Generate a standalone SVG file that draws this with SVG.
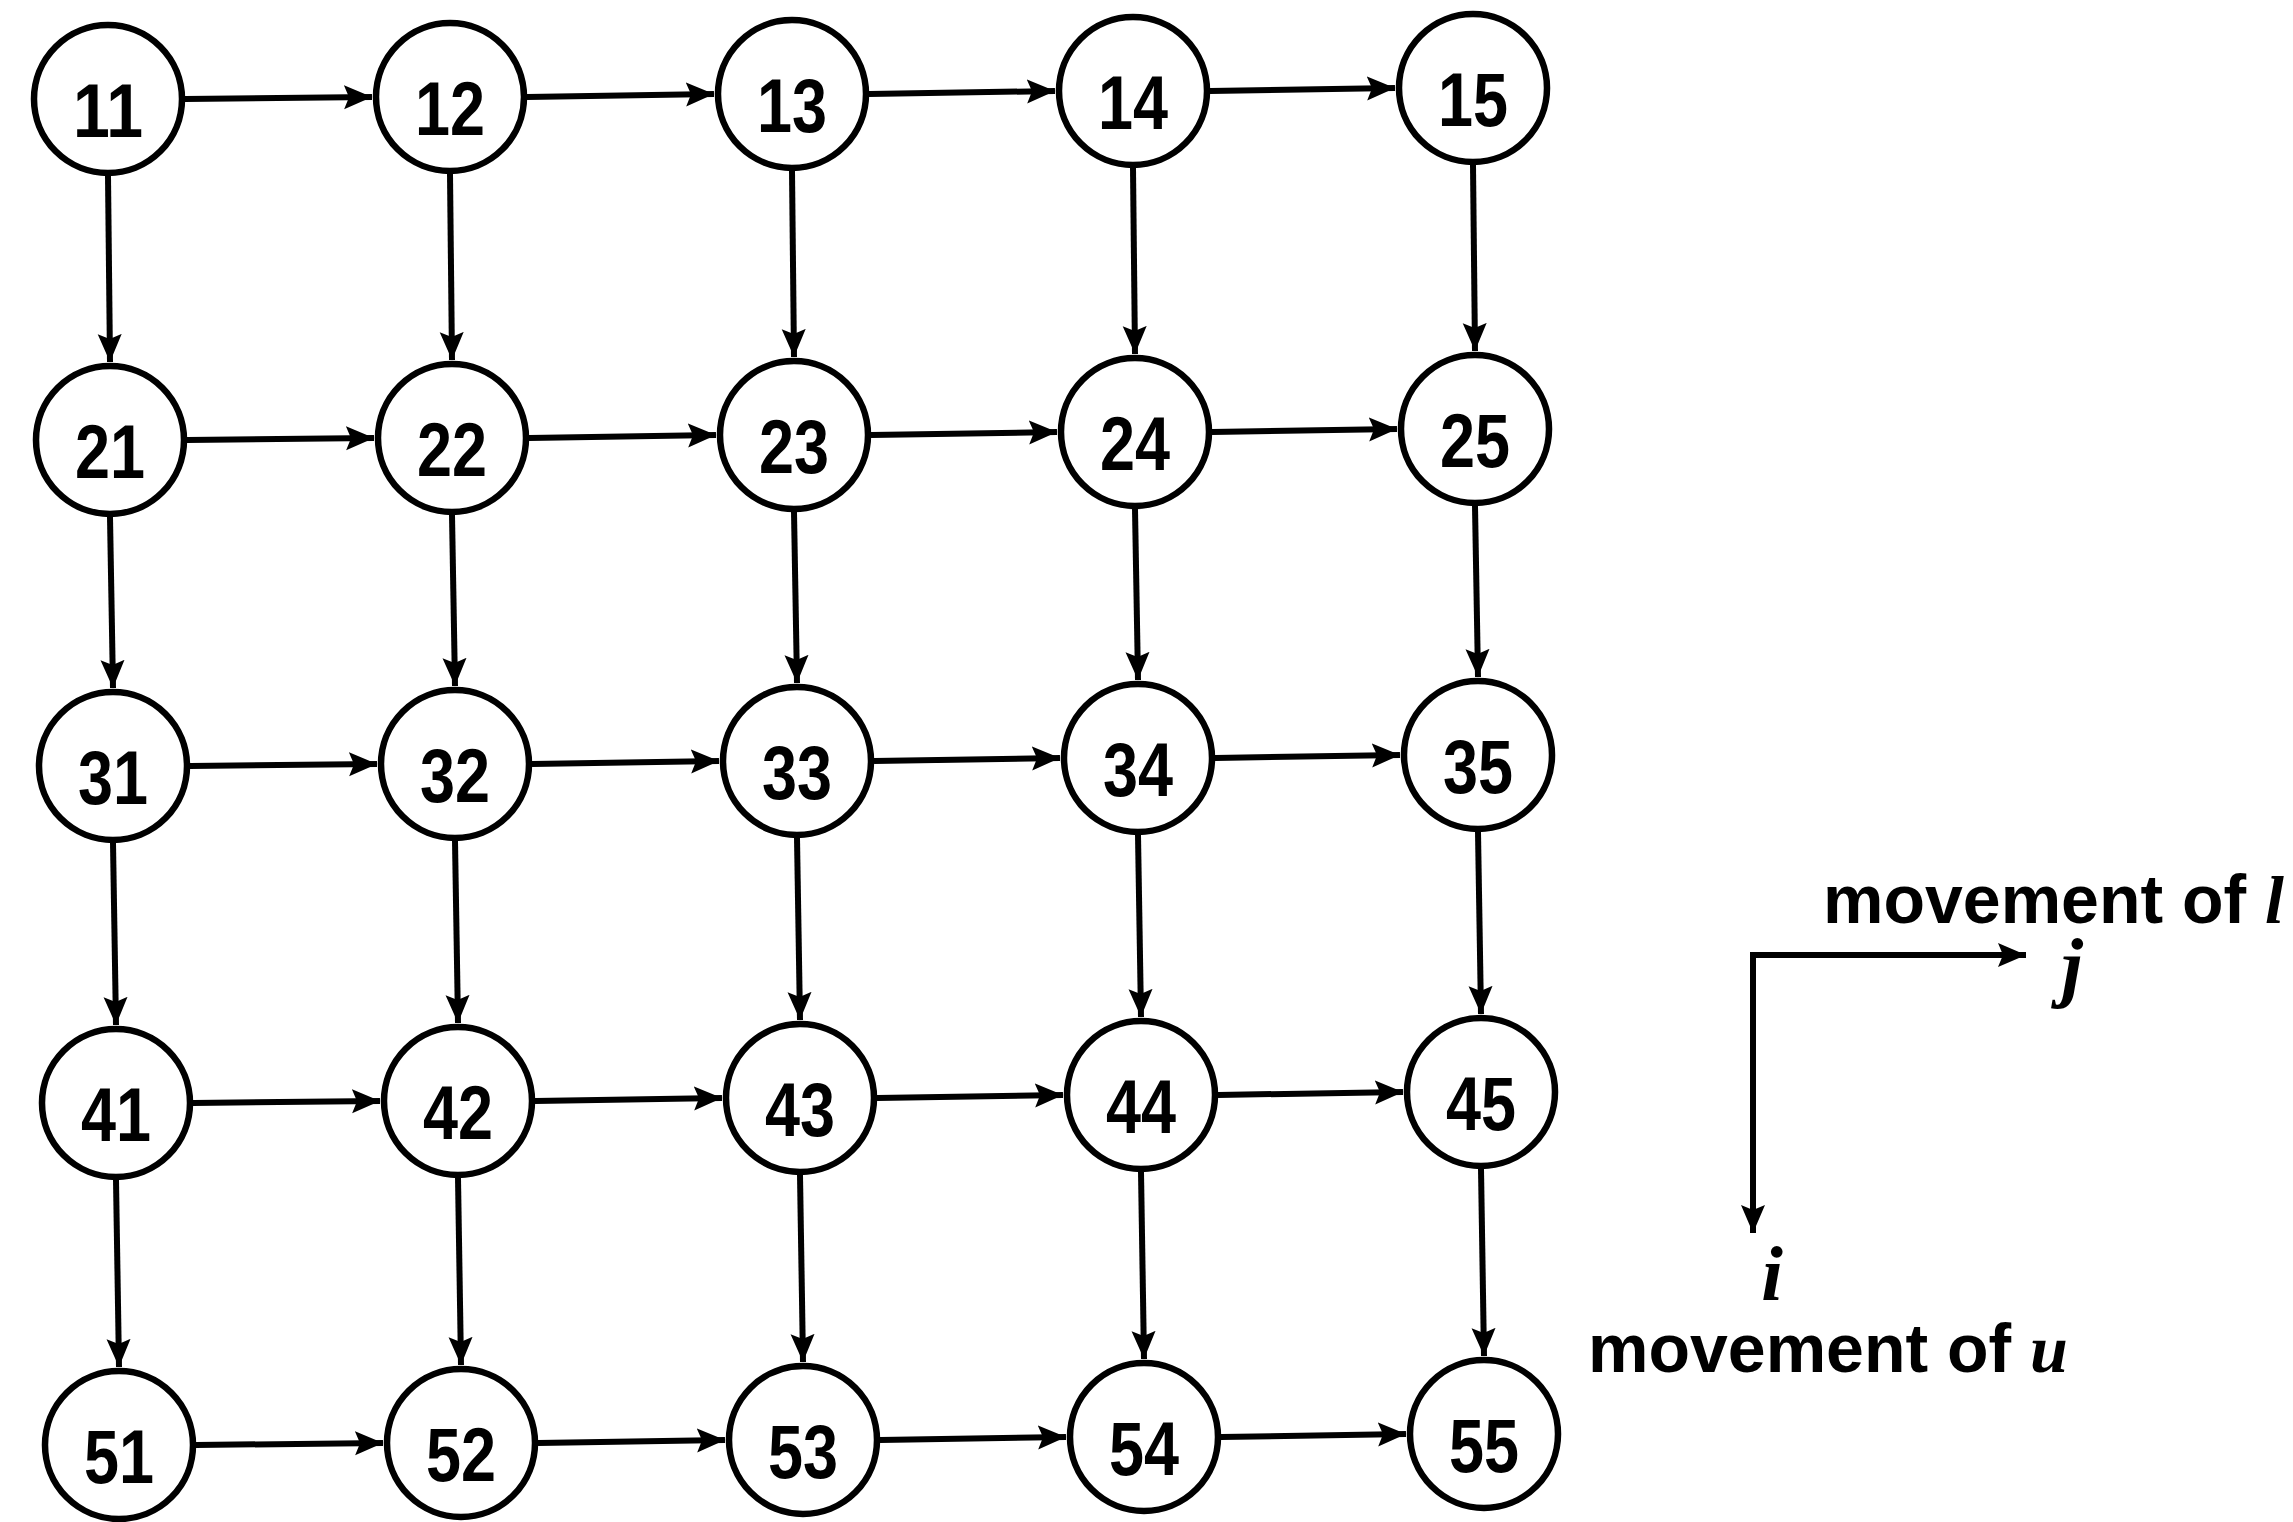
<svg xmlns="http://www.w3.org/2000/svg" width="2293" height="1522" viewBox="0 0 2293 1522">
  <style>
    .node circle { fill: #fff; stroke: #000; stroke-width: 6.5; }
    .node text { font-family: "Liberation Sans", Arial, sans-serif; font-weight: bold; font-size: 76px; text-anchor: middle; fill: #000; }
    .edge { stroke: #000; stroke-width: 6; fill: none; marker-end: url(#head); }
    .lbl { font-family: "Liberation Sans", Arial, sans-serif; font-weight: bold; font-size: 68px; fill: #000; }
    .var { font-family: "Liberation Serif", "Times New Roman", serif; font-style: italic; font-weight: bold; }
  </style>
  <defs>
    <marker id="head" markerUnits="userSpaceOnUse" markerWidth="30" markerHeight="26" refX="28" refY="12" orient="auto">
      <path d="M0,0 L28,12 L0,24 L5,12 z" fill="#000"/>
    </marker>
  </defs>
  <rect width="2293" height="1522" fill="#fff"/>

  <!-- connectors: rightward (along j) and downward (along i) -->
  <g id="connectors">
    <!-- row 1 -->
    <line class="edge" x1="185" y1="99" x2="372" y2="97"/>
    <line class="edge" x1="527" y1="97" x2="714" y2="94"/>
    <line class="edge" x1="869" y1="94" x2="1055" y2="91"/>
    <line class="edge" x1="1210" y1="91" x2="1395" y2="88"/>
    <!-- row 2 -->
    <line class="edge" x1="187" y1="440" x2="374" y2="438"/>
    <line class="edge" x1="529" y1="438" x2="716" y2="435"/>
    <line class="edge" x1="871" y1="435" x2="1057" y2="432"/>
    <line class="edge" x1="1212" y1="432" x2="1397" y2="429"/>
    <!-- row 3 -->
    <line class="edge" x1="190" y1="766" x2="377" y2="764"/>
    <line class="edge" x1="532" y1="764" x2="719" y2="761"/>
    <line class="edge" x1="874" y1="761" x2="1060" y2="758"/>
    <line class="edge" x1="1215" y1="758" x2="1400" y2="755"/>
    <!-- row 4 -->
    <line class="edge" x1="193" y1="1103" x2="380" y2="1101"/>
    <line class="edge" x1="535" y1="1101" x2="722" y2="1098"/>
    <line class="edge" x1="877" y1="1098" x2="1063" y2="1095"/>
    <line class="edge" x1="1218" y1="1095" x2="1403" y2="1092"/>
    <!-- row 5 -->
    <line class="edge" x1="196" y1="1445" x2="383" y2="1443"/>
    <line class="edge" x1="538" y1="1443" x2="725" y2="1440"/>
    <line class="edge" x1="880" y1="1440" x2="1066" y2="1437"/>
    <line class="edge" x1="1221" y1="1437" x2="1406" y2="1434"/>

    <!-- column 1 -->
    <line class="edge" x1="108" y1="176" x2="110" y2="362"/>
    <line class="edge" x1="110" y1="517" x2="113" y2="688"/>
    <line class="edge" x1="113" y1="843" x2="116" y2="1025"/>
    <line class="edge" x1="116" y1="1180" x2="119" y2="1367"/>
    <!-- column 2 -->
    <line class="edge" x1="450" y1="174" x2="452" y2="360"/>
    <line class="edge" x1="452" y1="515" x2="455" y2="686"/>
    <line class="edge" x1="455" y1="841" x2="458" y2="1023"/>
    <line class="edge" x1="458" y1="1178" x2="461" y2="1365"/>
    <!-- column 3 -->
    <line class="edge" x1="792" y1="171" x2="794" y2="357"/>
    <line class="edge" x1="794" y1="512" x2="797" y2="683"/>
    <line class="edge" x1="797" y1="838" x2="800" y2="1020"/>
    <line class="edge" x1="800" y1="1175" x2="803" y2="1362"/>
    <!-- column 4 -->
    <line class="edge" x1="1133" y1="168" x2="1135" y2="354"/>
    <line class="edge" x1="1135" y1="509" x2="1138" y2="680"/>
    <line class="edge" x1="1138" y1="835" x2="1141" y2="1017"/>
    <line class="edge" x1="1141" y1="1172" x2="1144" y2="1359"/>
    <!-- column 5 -->
    <line class="edge" x1="1473" y1="165" x2="1475" y2="351"/>
    <line class="edge" x1="1475" y1="506" x2="1478" y2="677"/>
    <line class="edge" x1="1478" y1="832" x2="1481" y2="1014"/>
    <line class="edge" x1="1481" y1="1169" x2="1484" y2="1356"/>
  </g>

  <!-- 5 x 5 grid of nodes -->
  <g id="n11" class="node"><circle cx="108" cy="99" r="74"/><text x="108" y="137" textLength="70" lengthAdjust="spacingAndGlyphs">11</text></g>
  <g id="n12" class="node"><circle cx="450" cy="97" r="74"/><text x="450" y="135" textLength="70" lengthAdjust="spacingAndGlyphs">12</text></g>
  <g id="n13" class="node"><circle cx="792" cy="94" r="74"/><text x="792" y="132" textLength="70" lengthAdjust="spacingAndGlyphs">13</text></g>
  <g id="n14" class="node"><circle cx="1133" cy="91" r="74"/><text x="1133" y="129" textLength="70" lengthAdjust="spacingAndGlyphs">14</text></g>
  <g id="n15" class="node"><circle cx="1473" cy="88" r="74"/><text x="1473" y="126" textLength="70" lengthAdjust="spacingAndGlyphs">15</text></g>

  <g id="n21" class="node"><circle cx="110" cy="440" r="74"/><text x="110" y="478" textLength="70" lengthAdjust="spacingAndGlyphs">21</text></g>
  <g id="n22" class="node"><circle cx="452" cy="438" r="74"/><text x="452" y="476" textLength="70" lengthAdjust="spacingAndGlyphs">22</text></g>
  <g id="n23" class="node"><circle cx="794" cy="435" r="74"/><text x="794" y="473" textLength="70" lengthAdjust="spacingAndGlyphs">23</text></g>
  <g id="n24" class="node"><circle cx="1135" cy="432" r="74"/><text x="1135" y="470" textLength="70" lengthAdjust="spacingAndGlyphs">24</text></g>
  <g id="n25" class="node"><circle cx="1475" cy="429" r="74"/><text x="1475" y="467" textLength="70" lengthAdjust="spacingAndGlyphs">25</text></g>

  <g id="n31" class="node"><circle cx="113" cy="766" r="74"/><text x="113" y="804" textLength="70" lengthAdjust="spacingAndGlyphs">31</text></g>
  <g id="n32" class="node"><circle cx="455" cy="764" r="74"/><text x="455" y="802" textLength="70" lengthAdjust="spacingAndGlyphs">32</text></g>
  <g id="n33" class="node"><circle cx="797" cy="761" r="74"/><text x="797" y="799" textLength="70" lengthAdjust="spacingAndGlyphs">33</text></g>
  <g id="n34" class="node"><circle cx="1138" cy="758" r="74"/><text x="1138" y="796" textLength="70" lengthAdjust="spacingAndGlyphs">34</text></g>
  <g id="n35" class="node"><circle cx="1478" cy="755" r="74"/><text x="1478" y="793" textLength="70" lengthAdjust="spacingAndGlyphs">35</text></g>

  <g id="n41" class="node"><circle cx="116" cy="1103" r="74"/><text x="116" y="1141" textLength="70" lengthAdjust="spacingAndGlyphs">41</text></g>
  <g id="n42" class="node"><circle cx="458" cy="1101" r="74"/><text x="458" y="1139" textLength="70" lengthAdjust="spacingAndGlyphs">42</text></g>
  <g id="n43" class="node"><circle cx="800" cy="1098" r="74"/><text x="800" y="1136" textLength="70" lengthAdjust="spacingAndGlyphs">43</text></g>
  <g id="n44" class="node"><circle cx="1141" cy="1095" r="74"/><text x="1141" y="1133" textLength="70" lengthAdjust="spacingAndGlyphs">44</text></g>
  <g id="n45" class="node"><circle cx="1481" cy="1092" r="74"/><text x="1481" y="1130" textLength="70" lengthAdjust="spacingAndGlyphs">45</text></g>

  <g id="n51" class="node"><circle cx="119" cy="1445" r="74"/><text x="119" y="1483" textLength="70" lengthAdjust="spacingAndGlyphs">51</text></g>
  <g id="n52" class="node"><circle cx="461" cy="1443" r="74"/><text x="461" y="1481" textLength="70" lengthAdjust="spacingAndGlyphs">52</text></g>
  <g id="n53" class="node"><circle cx="803" cy="1440" r="74"/><text x="803" y="1478" textLength="70" lengthAdjust="spacingAndGlyphs">53</text></g>
  <g id="n54" class="node"><circle cx="1144" cy="1437" r="74"/><text x="1144" y="1475" textLength="70" lengthAdjust="spacingAndGlyphs">54</text></g>
  <g id="n55" class="node"><circle cx="1484" cy="1434" r="74"/><text x="1484" y="1472" textLength="70" lengthAdjust="spacingAndGlyphs">55</text></g>

  <!-- axis key: j to the right, i downward -->
  <g id="axes">
    <line class="edge" x1="1750" y1="955" x2="2026" y2="955"/>
    <line class="edge" x1="1753" y1="952" x2="1753" y2="1233"/>
    <text class="lbl" x="1823" y="923">movement of <tspan class="var">l</tspan></text>
    <text class="var" x="2072" y="992" font-size="78" text-anchor="middle">j</text>
    <text class="var" x="1772" y="1300" font-size="78" text-anchor="middle">i</text>
    <text class="lbl" x="1588" y="1372">movement of <tspan class="var">u</tspan></text>
  </g>
</svg>
